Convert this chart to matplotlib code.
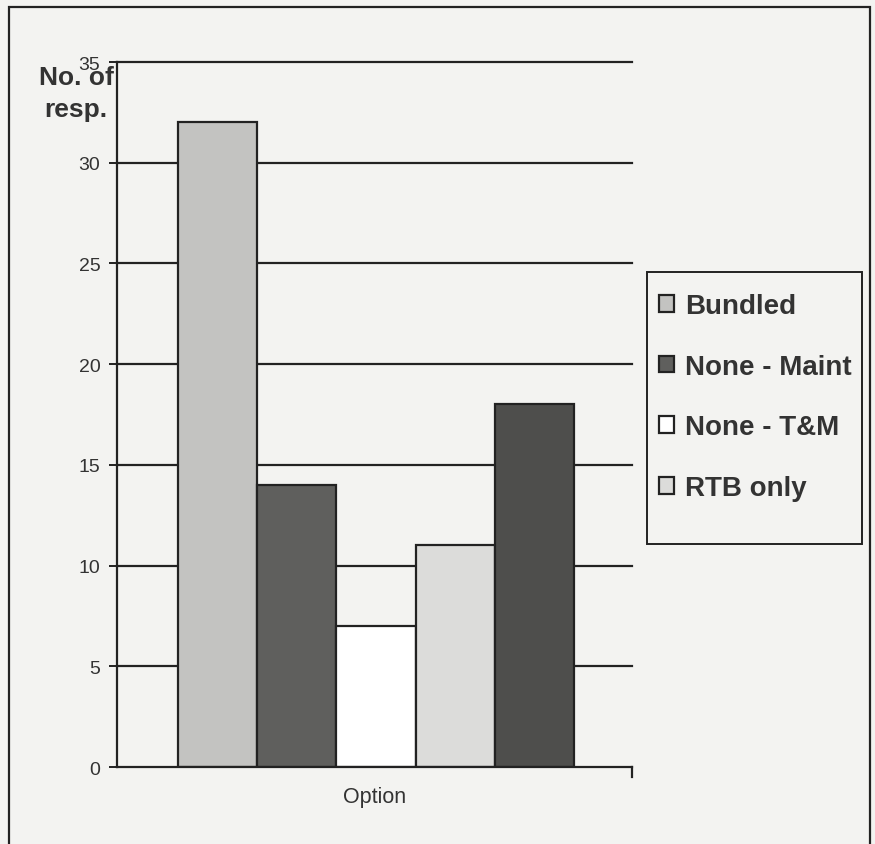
import matplotlib
matplotlib.use("Agg")
import matplotlib.pyplot as plt
from matplotlib.patches import Rectangle

plt.rcParams['font.family'] = ['Liberation Sans', 'DejaVu Sans']

series = ["Bundled", "None - Maint", "None - T&M", "RTB only", "Other"]
counts = [32, 14, 7, 11, 18]
colors = ["#c3c3c1", "#5f5f5d", "#ffffff", "#dcdcda", "#4e4e4c"]
in_legend = [True, True, True, True, False]
y_ticks = [0, 5, 10, 15, 20, 25, 30, 35]

bg = "#f3f3f1"
W, H = 875, 845
fig = plt.figure(figsize=(W / 100, H / 100), dpi=100, facecolor=bg)
fig.patches.append(Rectangle((0.010, -0.05), 0.984, 1.04, transform=fig.transFigure,
                             fill=False, edgecolor="#222222", linewidth=1.6))

ax = fig.add_axes([0.1337, 0.0911, 0.5886, 0.8343])
ax.set_facecolor("none")

for y in y_ticks[1:]:
    ax.axhline(y, color="#222222", linewidth=1.6, zorder=1, clip_on=False)

x = list(range(len(series)))
for xi, v, c, s, lg in zip(x, counts, colors, series, in_legend):
    ax.bar(xi, v, width=1.0, color=c, edgecolor="#222222", linewidth=1.6,
           label=s if lg else "_nolegend_", zorder=2)

ax.set_xlim(-1.27, 5.23)
ax.set_ylim(0, 35)
ax.set_yticks(y_ticks)
ax.set_yticklabels([str(t) for t in y_ticks], fontsize=14, color="#333333")
ax.tick_params(axis="y", length=6, width=1.4, color="#222222", direction="out", pad=6)
ax.set_xticks([])
for side in ["top", "right"]:
    ax.spines[side].set_visible(False)
for side in ["left", "bottom"]:
    ax.spines[side].set_linewidth(1.6)
    ax.spines[side].set_color("#222222")

# short downward mark at the right end of the category axis
ax.plot([5.23, 5.23], [0, -0.5], color="#222222", linewidth=1.6, clip_on=False)

ax.set_xlabel("Option", fontsize=15.5, color="#333333", labelpad=14)
fig.text(76 / W, 1 - 94 / H, "No. of\nresp.", fontsize=19, fontweight="bold", color="#333333",
         ha="center", va="center", multialignment="center", linespacing=1.45)

# legend box drawn as a figure rectangle, entries placed inside it
fig.patches.append(Rectangle((647 / W, 1 - 545 / H), 215 / W, 272 / H,
                             transform=fig.transFigure, facecolor=bg,
                             edgecolor="#222222", linewidth=1.4, zorder=3))
leg = fig.legend(loc="upper left", bbox_to_anchor=(659 / W, 1 - 294 / H), frameon=False,
                 prop={"weight": "bold", "size": 20},
                 handlelength=0.55, handleheight=0.55, handletextpad=0.4,
                 labelspacing=1.25, borderpad=0, borderaxespad=0)
leg.set_zorder(4)
for t in leg.get_texts():
    t.set_color("#333333")

fig.savefig("out.png", dpi=100, facecolor=bg)
